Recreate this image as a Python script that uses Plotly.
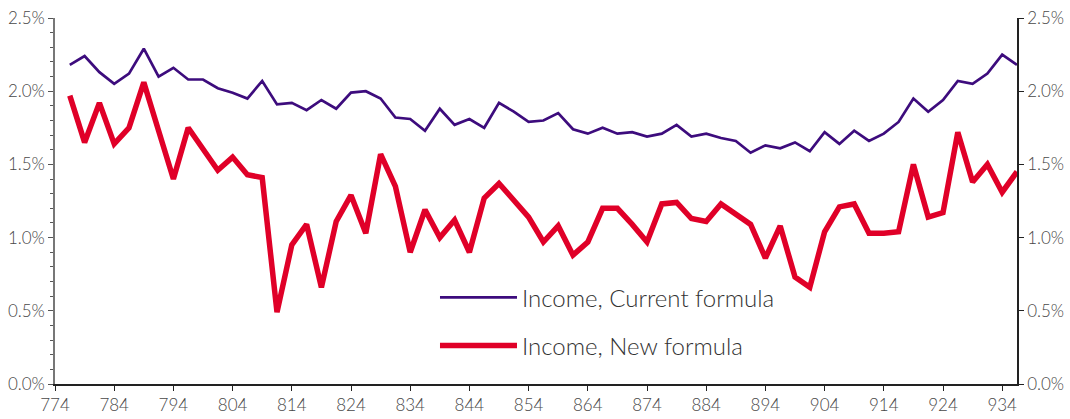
import plotly.graph_objects as go

# Period positions on the x axis (one point every 2.5 units)
n_points = 65
periods = [776.5 + 2.5 * i for i in range(n_points)]

current_formula = [
    2.18, 2.24, 2.13, 2.05, 2.12, 2.29, 2.10, 2.16, 2.08, 2.08,
    2.02, 1.99, 1.95, 2.07, 1.91, 1.92, 1.87, 1.94, 1.88, 1.99,
    2.00, 1.95, 1.82, 1.81, 1.73, 1.88, 1.77, 1.81, 1.75, 1.92,
    1.86, 1.79, 1.80, 1.85, 1.74, 1.71, 1.75, 1.71, 1.72, 1.69,
    1.71, 1.77, 1.69, 1.71, 1.68, 1.66, 1.58, 1.63, 1.61, 1.65,
    1.59, 1.72, 1.64, 1.73, 1.66, 1.71, 1.79, 1.95, 1.86, 1.94,
    2.07, 2.05, 2.12, 2.25, 2.18,
]

new_formula = [
    1.97, 1.65, 1.92, 1.64, 1.75, 2.06, 1.73, 1.40, 1.75, 1.61,
    1.46, 1.55, 1.43, 1.41, 0.49, 0.95, 1.09, 0.66, 1.11, 1.29,
    1.03, 1.57, 1.35, 0.90, 1.19, 1.00, 1.12, 0.90, 1.27, 1.37,
    1.25, 1.14, 0.97, 1.08, 0.88, 0.97, 1.20, 1.20, 1.09, 0.97,
    1.23, 1.24, 1.13, 1.11, 1.23, 1.16, 1.09, 0.86, 1.08, 0.73,
    0.66, 1.04, 1.21, 1.23, 1.03, 1.03, 1.04, 1.50, 1.14, 1.17,
    1.72, 1.38, 1.50, 1.31, 1.45,
]

x_ticks = list(range(774, 935, 10))
y_ticks = [0, 0.5, 1.0, 1.5, 2.0, 2.5]
y_labels = ["0.0%", "0.5%", "1.0%", "1.5%", "2.0%", "2.5%"]

PURPLE = "#3d0c7d"
RED = "#e00028"
FONT = "Lato"

fig = go.Figure()

fig.add_trace(go.Scatter(
    x=periods, y=current_formula, mode="lines",
    name="Income, Current formula",
    line=dict(color=PURPLE, width=2.7),
    legendgroup="a",
))
fig.add_trace(go.Scatter(
    x=periods, y=new_formula, mode="lines",
    name="Income, New formula",
    line=dict(color=RED, width=5.5),
    legendgroup="b",
))
# invisible copy so the right-hand axis gets drawn
fig.add_trace(go.Scatter(
    x=periods, y=new_formula, mode="lines", yaxis="y2",
    line=dict(width=0), hoverinfo="skip", showlegend=False,
))

tick_font = dict(family=FONT, size=17, color="#484848", weight=300)

fig.update_layout(
    width=1070, height=419,
    margin=dict(l=55, r=53, t=18, b=35),
    plot_bgcolor="white", paper_bgcolor="white",
    font=dict(family=FONT),
    xaxis=dict(
        range=[774, 936.5], tickvals=x_ticks, automargin=False,
        showgrid=False, zeroline=False,
        showline=True, linecolor="#222222", linewidth=1.5,
        ticks="outside", ticklen=5, tickcolor="#222222",
        tickfont=tick_font,
    ),
    yaxis=dict(
        range=[0, 2.5], tickvals=y_ticks, ticktext=y_labels,
        automargin=False,
        showgrid=False, zeroline=False,
        showline=True, linecolor="#777777", linewidth=1.5,
        ticks="outside", ticklen=5, tickcolor="#555555",
        minor=dict(dtick=0.1, ticks="outside", ticklen=3, tickcolor="#555555"),
        tickfont=tick_font,
    ),
    yaxis2=dict(
        range=[0, 2.5], tickvals=y_ticks, ticktext=y_labels,
        overlaying="y", side="right", automargin=False,
        showgrid=False, zeroline=False,
        showline=True, linecolor="#222222", linewidth=1.5,
        ticks="outside", ticklen=5, tickcolor="#222222",
        tickfont=tick_font,
    ),
    legend=dict(
        x=0.395, y=0.17, xanchor="left", yanchor="middle",
        bgcolor="rgba(0,0,0,0)",
        font=dict(family=FONT, size=24, color="#333333", weight=300),
        tracegroupgap=14,
        itemwidth=77,
    ),
)

# drop the browser's default 8px body margin so the figure sits at 0,0
fig.write_html(
    "out.html",
    config={"displayModeBar": False},
    post_script="document.body.style.margin = '0';",
)
